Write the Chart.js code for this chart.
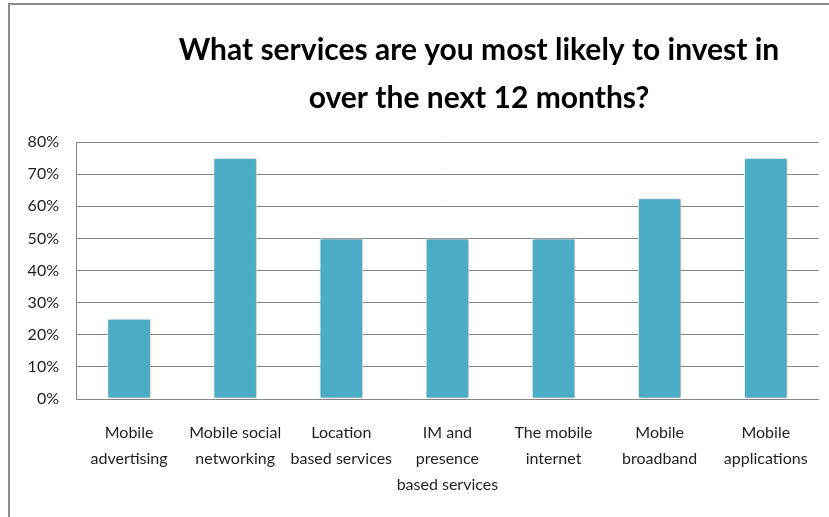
<!DOCTYPE html>
<html lang="en">
<head>
<meta charset="UTF-8">
<title>Services investment</title>
<style>
  html, body { margin: 0; padding: 0; background: #fff; }
  #wrap { position: relative; width: 829px; height: 517px; }
</style>
<script src="https://cdn.jsdelivr.net/npm/chart.js"></script>
</head>
<body>
<div id="wrap"><canvas id="chart" width="829" height="517"></canvas></div>
<script>
// categories (split over lines as shown under each bar)
const categories = [
  ['Mobile', 'advertising'],
  ['Mobile social', 'networking'],
  ['Location', 'based services'],
  ['IM and', 'presence', 'based services'],
  ['The mobile', 'internet'],
  ['Mobile', 'broadband'],
  ['Mobile', 'applications']
];
// share of respondents, percent
const shares = [25, 75, 50, 50, 50, 62.5, 75];
const titleLines = ['What services are you most likely to invest in', 'over the next 12 months?'];

const FONT = 'Lato, "Open Sans", sans-serif';

// outer frame of the chart object
const framePlugin = {
  id: 'frame',
  beforeDraw(chart) {
    const ctx = chart.ctx;
    ctx.save();
    ctx.strokeStyle = '#8c8c8c';
    ctx.lineWidth = 2;
    ctx.strokeRect(9, 4, 900, 600);
    ctx.restore();
  }
};

// two-line bold heading over the plot
const headingPlugin = {
  id: 'heading',
  afterDraw(chart) {
    const ctx = chart.ctx;
    ctx.save();
    ctx.fillStyle = '#000';
    ctx.font = 'bold 30px ' + FONT;
    ctx.textAlign = 'center';
    ctx.textBaseline = 'middle';
    ctx.fillText(titleLines[0], 479, 50);
    ctx.fillText(titleLines[1], 479, 98);
    ctx.restore();
  }
};

// soft drop shadow behind the columns
const shadowPlugin = {
  id: 'barShadow',
  beforeDatasetsDraw(chart) {
    const ctx = chart.ctx;
    ctx.save();
    ctx.shadowColor = 'rgba(0,0,0,0.3)';
    ctx.shadowBlur = 4;
    ctx.shadowOffsetX = 1;
    ctx.shadowOffsetY = 0;
  },
  afterDatasetsDraw(chart) {
    chart.ctx.restore();
  }
};

new Chart(document.getElementById('chart'), {
  type: 'bar',
  data: {
    labels: categories,
    datasets: [{
      data: shares,
      backgroundColor: '#4BACC6',
      borderColor: '#ffffff',
      borderWidth: 1,
      borderSkipped: false,
      barPercentage: 0.41,
      categoryPercentage: 1
    }]
  },
  options: {
    responsive: false,
    animation: false,
    devicePixelRatio: 1,
    layout: { padding: { top: 142, right: 5, bottom: 0, left: 0 } },
    plugins: {
      legend: { display: false },
      title: { display: false },
      tooltip: { enabled: false }
    },
    scales: {
      x: {
        grid: { display: false, drawTicks: false },
        border: { display: true, color: '#868686', width: 1 },
        ticks: {
          color: '#1f1f1f',
          font: { family: FONT, size: 16, lineHeight: 1.63 },
          padding: 21,
          maxRotation: 0,
          autoSkip: false
        },
        afterFit(scale) { scale.height = 118; }
      },
      y: {
        min: 0,
        max: 80,
        grid: { color: '#868686', lineWidth: 1, drawTicks: false },
        border: { display: true, color: '#868686', width: 1 },
        ticks: {
          stepSize: 10,
          color: '#1f1f1f',
          font: { family: FONT, size: 16 },
          padding: 17,
          callback: v => v + '%'
        },
        afterFit(scale) { scale.width = 76; }
      }
    }
  },
  plugins: [framePlugin, shadowPlugin, headingPlugin]
});
</script>
</body>
</html>
